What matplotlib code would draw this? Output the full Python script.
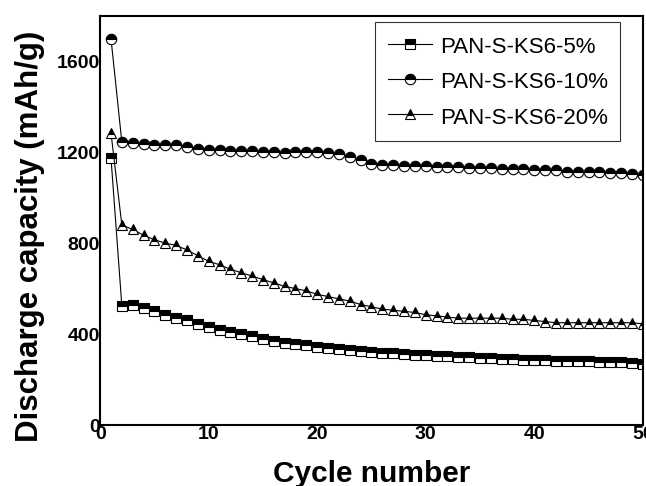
import matplotlib
matplotlib.use("Agg")
import matplotlib.pyplot as plt
import numpy as np

plt.rcParams['font.family'] = ['Liberation Sans', 'DejaVu Sans']

cycles = list(range(1, 51))
cap_5 = [1175, 525, 530, 515, 500, 485, 470, 460, 445, 430,
         420, 410, 400, 390, 380, 370, 360, 355, 350, 345,
         340, 335, 330, 325, 320, 318, 315, 312, 310, 308,
         305, 303, 300, 298, 296, 294, 292, 290, 288, 286,
         285, 283, 282, 282, 280, 278, 276, 275, 274, 270]
cap_10 = [1700, 1245, 1240, 1235, 1230, 1230, 1230, 1225, 1215, 1210,
          1210, 1205, 1205, 1205, 1200, 1200, 1195, 1200, 1200, 1200,
          1195, 1190, 1180, 1165, 1150, 1145, 1145, 1140, 1140, 1140,
          1135, 1135, 1135, 1130, 1130, 1130, 1125, 1125, 1125, 1120,
          1120, 1120, 1115, 1115, 1115, 1115, 1110, 1110, 1105, 1100]
cap_20 = [1285, 880, 860, 835, 815, 800, 790, 770, 745, 720,
          705, 685, 670, 655, 640, 625, 610, 600, 590, 575,
          565, 555, 545, 530, 520, 510, 505, 500, 495, 485,
          480, 475, 470, 470, 470, 470, 470, 465, 465, 460,
          455, 450, 450, 450, 450, 450, 450, 450, 450, 445]
labels = ['PAN-S-KS6-5%', 'PAN-S-KS6-10%', 'PAN-S-KS6-20%']
xticks = [0, 10, 20, 30, 40, 50]
yticks = [0, 400, 800, 1200, 1600]

fig = plt.figure(figsize=(6.46, 4.86), dpi=100)
ax = fig.add_axes([0.155, 0.1255, 0.84, 0.842])

common = dict(color='black', linewidth=0.8, markersize=7.5, fillstyle='top',
              markerfacecolor='black', markerfacecoloralt='white',
              markeredgecolor='black', markeredgewidth=0.8)
ax.plot(cycles, cap_5, marker='s', label=labels[0], **common)
ax.plot(cycles, cap_10, marker='o', label=labels[1], **common)
ax.plot(cycles, cap_20, marker='^', label=labels[2], **common)

ax.set_xlim(0, 50)
ax.set_ylim(0, 1800)
ax.set_xticks(xticks)
ax.set_yticks(yticks)
ax.tick_params(length=0, labelsize=14)
ax.tick_params(axis='y', pad=0)
ax.tick_params(axis='x', pad=1)
for t in ax.get_xticklabels() + ax.get_yticklabels():
    t.set_fontweight('bold')
for s in ax.spines.values():
    s.set_linewidth(1.5)

ax.set_xlabel('Cycle number', fontsize=21.5, fontweight='bold', labelpad=12)
ax.set_ylabel('Discharge capacity (mAh/g)', fontsize=22.5, fontweight='bold')
ax.yaxis.set_label_coords(-0.101, 0.462)

leg = ax.legend(loc='upper right', bbox_to_anchor=(0.958, 0.985), fontsize=16,
                frameon=True, fancybox=False, edgecolor='black',
                handlelength=2.0, handleheight=1.2, handletextpad=0.35,
                borderpad=0.55, labelspacing=0.52, borderaxespad=0)
leg.get_frame().set_linewidth(0.8)

fig.savefig('out.png', dpi=100)
